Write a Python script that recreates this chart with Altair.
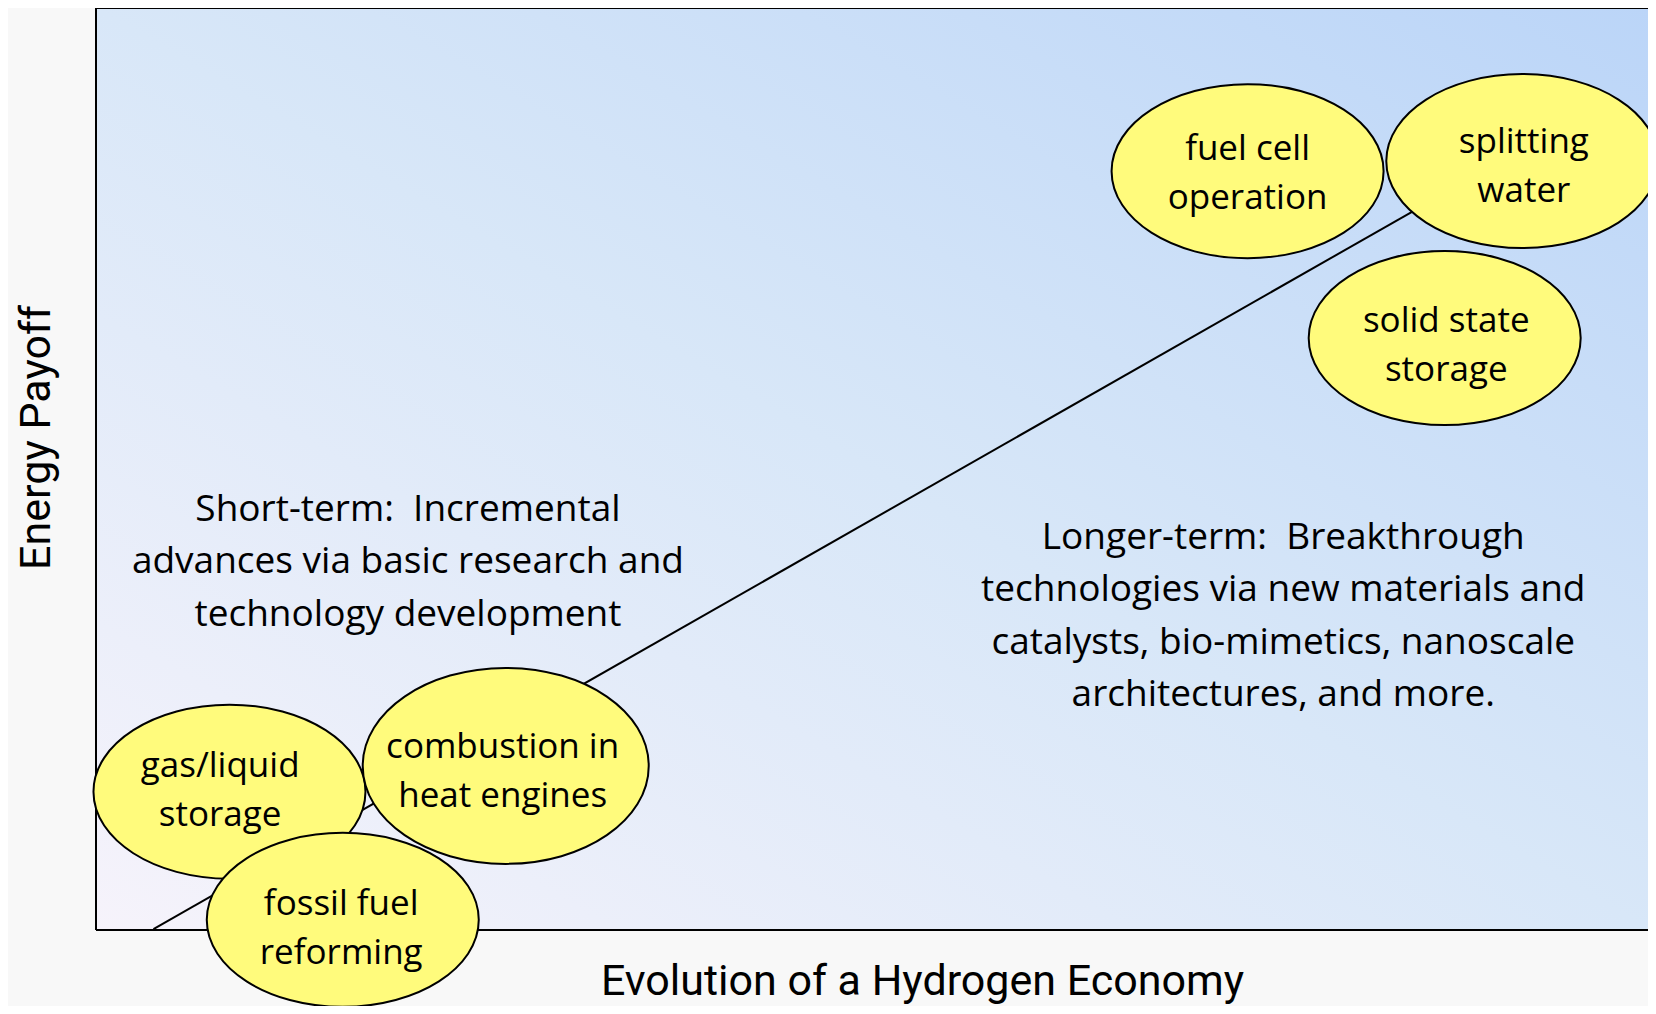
import altair as alt
import pandas as pd

# ---- data (x = evolution 0-100, y = energy payoff 0-100) ----
names = ["fuel cell operation", "splitting water", "solid state storage",
         "gas/liquid storage", "combustion in heat engines", "fossil fuel reforming"]
labels = ["fuel cell\noperation", "splitting\nwater", "solid state\nstorage",
          "gas/liquid\nstorage", "combustion in\nheat engines", "fossil fuel\nreforming"]
ell_x = [74.2, 91.9, 86.9, 8.6, 26.4, 15.9]
ell_y = [82.3, 83.4, 64.2, 15.0, 17.8, 1.1]
lab_x = [74.2, 92.0, 87.0, 8.0, 26.2, 15.8]
lab_y = [82.1, 82.8, 63.4, 15.1, 17.2, 0.2]
ell_kind = ["std", "std", "std", "std", "big", "std"]

trend_x = [3.7, 87.2]
trend_y = [0.1, 80.2]

short_note = "Short-term:\u00a0 Incremental\nadvances via basic research and\ntechnology development"
long_note = ("Longer-term:\u00a0 Breakthrough\ntechnologies via new materials and\n"
             "catalysts, bio-mimetics, nanoscale\narchitectures, and more.")
note_x = [20.1, 76.5]
note_y = [39.9, 34.0]

x_title = "Evolution of a Hydrogen Economy"
y_title = "Energy Payoff"

# ---- styles ----
W, H = 1552, 922
K = 0.5523
LH_ELL, LH_NOTE = 49, 52.5


def ellipse_path(r):
    kr = K * r
    return (f"M -1 0 C -1 {-kr} {-K} {-r} 0 {-r} C {K} {-r} 1 {-kr} 1 0 "
            f"C 1 {kr} {K} {r} 0 {r} C {-K} {r} -1 {kr} -1 0 Z")


kind_style = {
    "std": {"shape": ellipse_path(87 / 136), "size": (2 * 136) ** 2},
    "big": {"shape": ellipse_path(98 / 143), "size": (2 * 143) ** 2},
}

ell_df = pd.DataFrame({
    "name": names, "x": ell_x, "y": ell_y,
    "shape": [kind_style[k]["shape"] for k in ell_kind],
    "size": [kind_style[k]["size"] for k in ell_kind],
})
lab_df = pd.DataFrame({"name": names, "label": labels, "x": lab_x, "y": lab_y})
trend_df = pd.DataFrame({"x": trend_x, "y": trend_y})
short_df = pd.DataFrame({"note": [short_note], "x": [note_x[0]], "y": [note_y[0]]})
long_df = pd.DataFrame({"note": [long_note], "x": [note_x[1]], "y": [note_y[1]]})

comic = "Comic Sans MS, Open Sans, sans-serif"
narrow = "Arial Narrow, Roboto, sans-serif"

xscale = alt.Scale(domain=[0, 100], nice=False, zero=False)
yscale = alt.Scale(domain=[0, 100], nice=False, zero=False)

xaxis = alt.Axis(title=x_title, labels=False, ticks=False, grid=False, domain=False,
                 titleFont=narrow,
                 titleFontSize=43, titleFontWeight="normal", titleColor="black",
                 titleX=826, titleY=64, titleAlign="center", titleBaseline="alphabetic")
yaxis = alt.Axis(title=y_title, labels=False, ticks=False, grid=False, domain=False,
                 titleFont=narrow,
                 titleFontSize=43, titleFontWeight="normal", titleColor="black",
                 titleX=-60, titleY=429, titleAngle=270, titleAlign="center",
                 titleBaseline="middle")

gradient = alt.LinearGradient(
    gradient="linear", x1=0, y1=1, x2=1, y2=0,
    stops=[
        alt.GradientStop(offset=0, color="#f6f3fb"),
        alt.GradientStop(offset=0.5, color="#d8e7f8"),
        alt.GradientStop(offset=1, color="#bbd5f8"),
    ],
)

background = alt.Chart(trend_df).mark_rect(fill=gradient, strokeWidth=0).encode(
    x=alt.value(0), x2=alt.value(W), y=alt.value(0), y2=alt.value(H)
)

frame_top = alt.Chart(trend_df).mark_rule(color="black", strokeWidth=2).encode(
    x=alt.value(0), x2=alt.value(W), y=alt.value(0)
)
frame_bottom = alt.Chart(trend_df).mark_rule(color="black", strokeWidth=2).encode(
    x=alt.value(0), x2=alt.value(W), y=alt.value(H)
)
frame_left = alt.Chart(trend_df).mark_rule(color="black", strokeWidth=2).encode(
    x=alt.value(0), y=alt.value(0), y2=alt.value(H)
)

trend = alt.Chart(trend_df).mark_line(color="black", strokeWidth=2).encode(
    x=alt.X("x:Q", scale=xscale, axis=xaxis),
    y=alt.Y("y:Q", scale=yscale, axis=yaxis),
)

ellipses = alt.Chart(ell_df).mark_point(
    filled=True, fill="#fffb7c", stroke="black", strokeWidth=2, opacity=1,
    fillOpacity=1, strokeOpacity=1
).encode(
    x=alt.X("x:Q", scale=xscale),
    y=alt.Y("y:Q", scale=yscale),
    shape=alt.Shape("shape:N", scale=None, legend=None),
    size=alt.Size("size:Q", scale=None, legend=None),
)

ell_text = alt.Chart(lab_df).mark_text(
    font=comic, fontSize=35, color="black", lineBreak="\n", lineHeight=LH_ELL,
    align="center", baseline="middle", dy=-LH_ELL / 2
).encode(
    x=alt.X("x:Q", scale=xscale),
    y=alt.Y("y:Q", scale=yscale),
    text="label:N",
)

short_text = alt.Chart(short_df).mark_text(
    font=comic, fontSize=37, color="black", lineBreak="\n", lineHeight=LH_NOTE,
    align="center", baseline="middle", dy=-LH_NOTE
).encode(
    x=alt.X("x:Q", scale=xscale),
    y=alt.Y("y:Q", scale=yscale),
    text="note:N",
)

long_text = alt.Chart(long_df).mark_text(
    font=comic, fontSize=37, color="black", lineBreak="\n", lineHeight=LH_NOTE,
    align="center", baseline="middle", dy=-1.5 * LH_NOTE
).encode(
    x=alt.X("x:Q", scale=xscale),
    y=alt.Y("y:Q", scale=yscale),
    text="note:N",
)

chart = alt.layer(background, frame_top, frame_bottom, frame_left, trend,
                  ellipses, ell_text, short_text, long_text).properties(
    width=W, height=H,
    autosize=alt.AutoSizeParams(type="none"),
    padding={"left": 88, "top": 0, "right": 0, "bottom": 76},
    background="#f8f8f8",
).configure_view(
    stroke=None
)

chart.save("out.html", embed_options={"renderer": "svg", "actions": False})
